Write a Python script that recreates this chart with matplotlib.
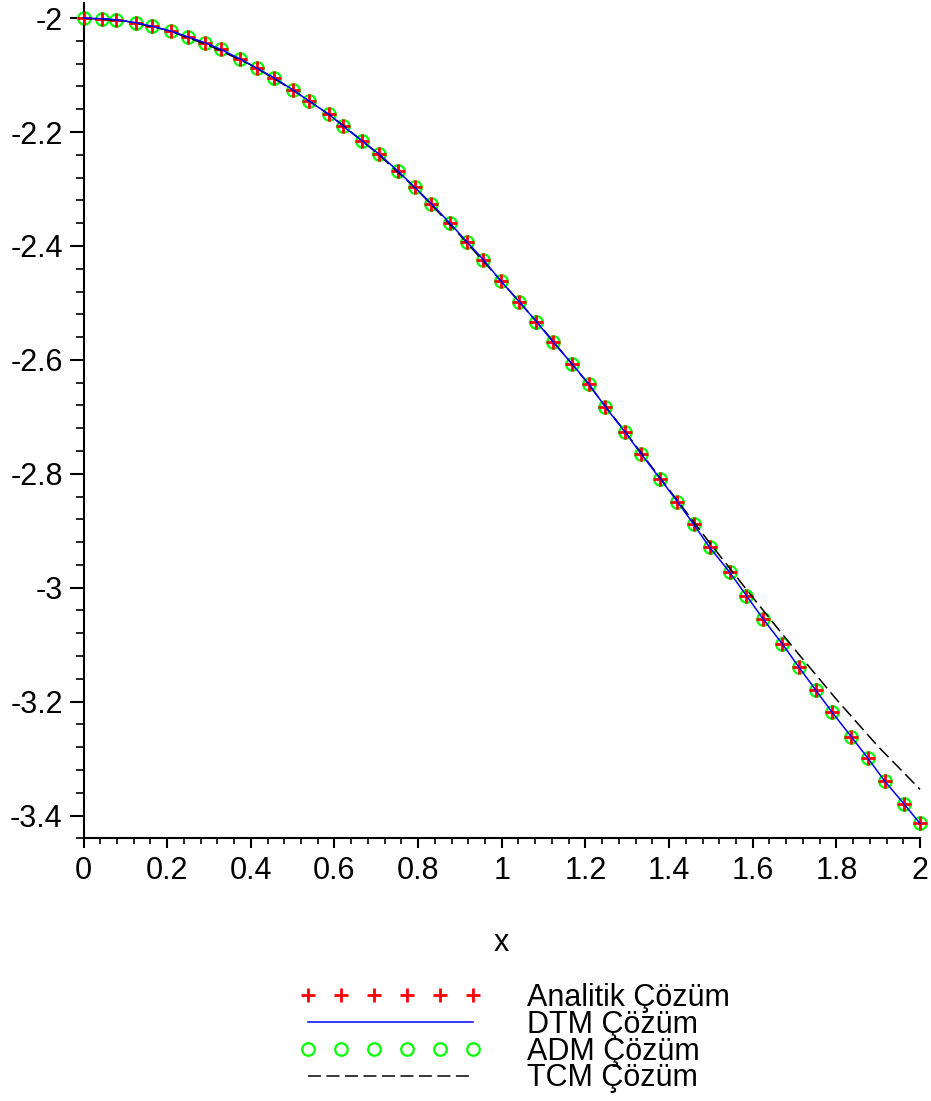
import numpy as np
import matplotlib
matplotlib.use('Agg')
import matplotlib.pyplot as plt
from matplotlib.ticker import MultipleLocator, FuncFormatter

plt.rcParams['font.family'] = ['Liberation Sans', 'DejaVu Sans']
plt.rcParams['axes.unicode_minus'] = False

# points (Maple-style adaptive sampling)
x_pts = [0.0, 0.045, 0.078, 0.125, 0.163, 0.210, 0.250, 0.290, 0.329, 0.375,
         0.415, 0.456, 0.501, 0.540, 0.587, 0.621, 0.667, 0.707, 0.751, 0.792,
         0.832, 0.876, 0.917, 0.956, 0.997, 1.042, 1.083, 1.123, 1.168, 1.209,
         1.248, 1.294, 1.334, 1.379, 1.420, 1.459, 1.497, 1.545, 1.585, 1.625,
         1.670, 1.711, 1.751, 1.790, 1.836, 1.875, 1.916, 1.961, 2.0]
analitik_y = [-2.000, -2.001, -2.003, -2.008, -2.014, -2.023, -2.033, -2.043, -2.055, -2.072,
              -2.088, -2.105, -2.126, -2.146, -2.169, -2.190, -2.216, -2.239, -2.268, -2.297,
              -2.326, -2.360, -2.393, -2.424, -2.461, -2.498, -2.533, -2.569, -2.607, -2.643,
              -2.683, -2.726, -2.766, -2.809, -2.849, -2.889, -2.929, -2.973, -3.014, -3.055,
              -3.098, -3.140, -3.180, -3.219, -3.262, -3.299, -3.340, -3.379, -3.414]
dtm_y = analitik_y
adm_y = analitik_y

x_tcm = [0.0, 0.1, 0.2, 0.3, 0.4, 0.5, 0.6, 0.7, 0.8, 0.9, 1.0,
         1.1, 1.2, 1.3, 1.4, 1.5, 1.6, 1.7, 1.8, 1.9, 2.0]
tcm_y = [-2.000, -2.005, -2.021, -2.048, -2.082, -2.126, -2.176, -2.236, -2.303, -2.381, -2.463,
         -2.547, -2.636, -2.731, -2.828, -2.924, -3.017, -3.108, -3.196, -3.279, -3.354]

fig = plt.figure(figsize=(9.31, 11.01), dpi=100)
ax = fig.add_axes([0.0897, 0.2386, 0.8985, 0.7584])

ax.plot(x_pts, adm_y, linestyle='none', marker='o', ms=9, mfc='none',
        mec=(0, 1, 0), mew=1.6, clip_on=False, label='ADM Çözüm', zorder=2)
ax.plot(x_pts, analitik_y, linestyle='none', marker='+', ms=10, mec=(1, 0, 0),
        mew=2.0, clip_on=False, label='Analitik Çözüm', zorder=3)
ax.plot(x_tcm, tcm_y, color='black', lw=1.1, dashes=(8.5, 3.6), clip_on=False,
        label='TCM Çözüm', zorder=3)
ax.plot(x_pts, dtm_y, color=(0, 0, 1), lw=1.1, clip_on=False,
        label='DTM Çözüm', zorder=4)

ax.set_xlim(0, 2)
ax.set_ylim(-3.44, -1.974)

for s in ['top', 'right']:
    ax.spines[s].set_visible(False)
for s in ['left', 'bottom']:
    ax.spines[s].set_linewidth(1.5)

ax.xaxis.set_major_locator(MultipleLocator(0.2))
ax.xaxis.set_minor_locator(MultipleLocator(0.04))
ax.yaxis.set_major_locator(MultipleLocator(0.2))
ax.yaxis.set_minor_locator(MultipleLocator(0.04))
fmt = FuncFormatter(lambda v, p: '%g' % round(v, 4))
ax.xaxis.set_major_formatter(fmt)
ax.yaxis.set_major_formatter(fmt)
ax.tick_params(axis='x', which='major', length=7, width=1.5, pad=6, labelsize=22)
ax.tick_params(axis='x', which='minor', length=4, width=1.2)
ax.tick_params(axis='y', which='major', length=10, width=1.5, pad=5, labelsize=22)
ax.tick_params(axis='y', which='minor', length=6, width=1.2)

ax.set_xlabel('x', fontsize=22)
ax.xaxis.set_label_coords(0.5, -0.108)

handles, labels = ax.get_legend_handles_labels()
order = [1, 3, 0, 2]
fig.legend([handles[i] for i in order], [labels[i] for i in order],
           loc='upper left', bbox_to_anchor=(0.3212, 0.1075), frameon=False,
           fontsize=22, numpoints=6, handlelength=6.0, handletextpad=1.45,
           labelspacing=-0.1, borderpad=0, borderaxespad=0)

fig.savefig('out.png', dpi=100)
